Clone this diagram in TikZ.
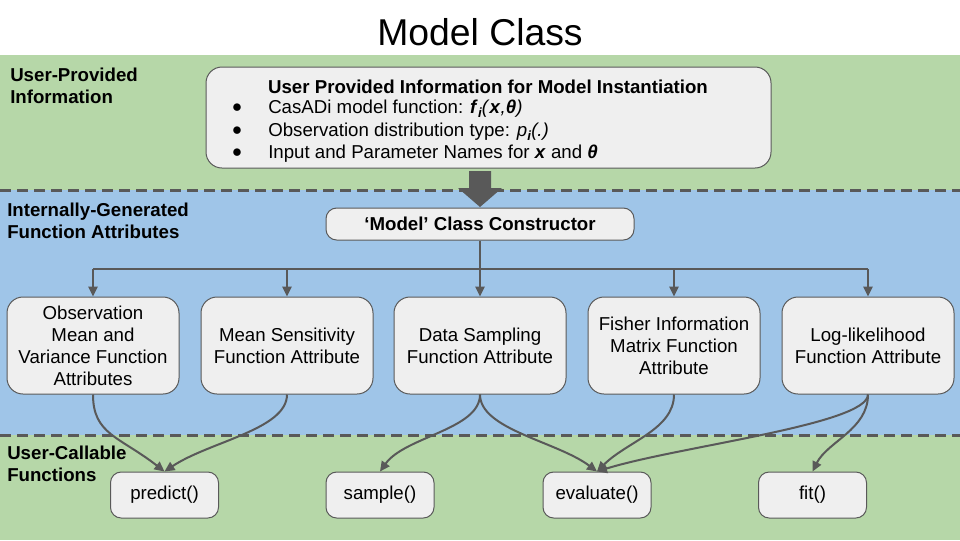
\documentclass[tikz,border=0pt]{standalone}
\usepackage{fontspec}
\setmainfont{Liberation Sans}
\usetikzlibrary{arrows.meta}
\definecolor{gband}{HTML}{B6D7A8}
\definecolor{bband}{HTML}{9FC5E8}
\definecolor{boxfill}{HTML}{EFEFEF}
\definecolor{dgray}{HTML}{595959}
\newcommand{\bi}[1]{\textbf{\textit{#1}}}
\newcommand{\subi}{\raisebox{-0.45ex}{\fontsize{10}{12}\selectfont\bi{i}}}
\begin{document}
\begin{tikzpicture}[x=0.75pt,y=-0.75pt,
  box/.style={draw=dgray, line width=0.75pt, fill=boxfill, rounded corners=8pt,
    align=center, font=\fontsize{14}{16.5}\selectfont, inner sep=0pt},
  sz/.style 2 args={minimum width=#1*0.75pt, minimum height=#2*0.75pt},
  sect/.style={font=\fontsize{14}{16.5}\selectfont\bfseries, align=left, inner sep=0pt, anchor=north west},
  txt/.style={font=\fontsize{14}{16.5}\selectfont, inner sep=0pt},
  dashline/.style={draw=dgray, line width=2.25pt, dash pattern=on 8.25pt off 4.5pt},
  conn/.style={draw=dgray, line width=1.5pt},
  arr/.style={conn, -{Triangle[length=7.5pt,width=7pt]}},
]
\useasboundingbox (0,0) rectangle (960,540);
% background bands
\fill[white] (0,0) rectangle (960,55);
\fill[gband] (0,55) rectangle (960,190);
\fill[bband] (0,190) rectangle (960,435);
\fill[gband] (0,435) rectangle (960,540);
\draw[dashline] (0,190) -- (960,190);
\draw[dashline] (0,435) -- (960,435);

% title
\node[font=\fontsize{28}{30}\selectfont, inner sep=0pt] (title) at (480,32) {Model Class};

% section labels
\node[sect] (s1) at (10,68) {User-Provided\\Information};
\node[sect] (s2) at (7,203) {Internally-Generated\\Function Attributes};
\node[sect] (s3) at (7,446) {User-Callable\\Functions};

% info box
\node[box, sz={565}{101}, rounded corners=12pt] (info) at (488.5,117.5) {};
\node[txt, font=\fontsize{14}{16.5}\selectfont\bfseries, anchor=base] (infot) at (488,93) {User Provided Information for Model Instantiation};
\node[txt, font=\fontsize{13}{15}\selectfont, anchor=base] (b1d) at (237,112) {●};
\node[txt, font=\fontsize{13}{15}\selectfont, anchor=base] (b2d) at (237,135) {●};
\node[txt, font=\fontsize{13}{15}\selectfont, anchor=base] (b3d) at (237,157) {●};
\node[txt, anchor=base west] (l1) at (268,113) {CasADi model function: \bi{f}\subi\textit{(}\bi{x}\textit{,}\bi{θ}\textit{)}};
\node[txt, anchor=base west] (l2) at (268,136) {Observation distribution type: \textit{p}\subi\textit{(.)}};
\node[txt, anchor=base west] (l3) at (268,158) {Input and Parameter Names for \bi{x} and \bi{θ}};

% big arrow
\fill[dgray] (469,171) -- (491,171) -- (491,188) -- (502,188) -- (480,207) -- (458,188) -- (469,188) -- cycle;

% constructor
\node[box, sz={308}{32}, font=\fontsize{14}{16.5}\selectfont\bfseries] (ctor) at (480,224) {‘Model’ Class Constructor};

% attribute boxes
\node[box, sz={172}{97}, rounded corners=12pt] (a1) at (93,345.5) {Observation\\Mean and\\Variance Function\\Attributes};
\node[box, sz={172}{97}, rounded corners=12pt] (a2) at (287,345.5) {Mean Sensitivity\\Function Attribute};
\node[box, sz={172}{97}, rounded corners=12pt] (a3) at (480,345.5) {Data Sampling\\Function Attribute};
\node[box, sz={172}{97}, rounded corners=12pt] (a4) at (674,345.5) {Fisher Information\\Matrix Function\\Attribute};
\node[box, sz={172}{97}, rounded corners=12pt] (a5) at (868,345.5) {Log-likelihood\\Function Attribute};

% callable functions
\node[box, sz={108}{46}] (pred) at (164.5,495) {predict()};
\node[box, sz={108}{46}] (samp) at (380,495) {sample()};
\node[box, sz={108}{46}] (eval) at (597,495) {evaluate()};
\node[box, sz={108}{46}] (fit) at (812.5,495) {fit()};

% tree
\coordinate (bus) at (480,269);
\draw[conn] (ctor.south) -- (bus);
\draw[conn] (bus -| a1.north) -- (bus -| a5.north);
\foreach \n in {a1,a2,a3,a4,a5} \draw[arr] (bus -| \n.north) -- (\n.north);

% curves
\draw[arr] (a1.south) .. controls +(0,40) and +(-45,-35) .. (pred.north);
\draw[arr] (a2.south) .. controls +(0,35) and +(45,-30) .. (pred.north);
\draw[arr] (a3.south) .. controls +(0,35) and +(25,-35) .. (samp.north);
\draw[arr] (a3.south) .. controls +(0,35) and +(-40,-30) .. (eval.north);
\draw[arr] (a4.south) .. controls +(0,35) and +(30,-30) .. (eval.north);
\draw[arr] (a5.south) .. controls +(0,30) and +(80,-25) .. (eval.north);
\draw[arr] (a5.south) .. controls +(0,35) and +(15,-30) .. (fit.north);
\end{tikzpicture}
\end{document}
